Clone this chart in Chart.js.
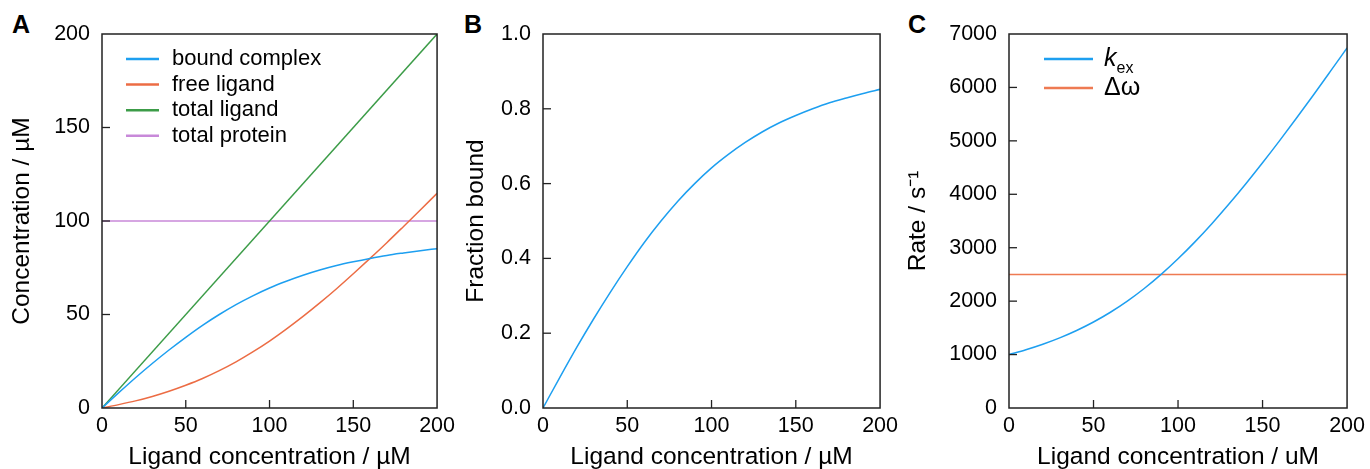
<!DOCTYPE html>
<html>
<head>
<meta charset="utf-8">
<script src="https://cdn.jsdelivr.net/npm/chart.js@4.4.1/dist/chart.umd.min.js"></script>
<style>
  body { margin: 0; background: #fff; width: 1370px; height: 469px; overflow: hidden; position: relative; }
  canvas { position: absolute; top: 0; }
  .tag { position: absolute; top: 12px; font: bold 25px/1 "Liberation Sans", Arial, sans-serif; color: #000; }
</style>
</head>
<body>
<div class="tag" style="left:12px">A</div>
<div class="tag" style="left:464px">B</div>
<div class="tag" style="left:908px">C</div>
<canvas id="chartA" width="460" height="469" style="left:0px"></canvas>
<canvas id="chartB" width="443" height="469" style="left:460px"></canvas>
<canvas id="chartC" width="467" height="469" style="left:903px"></canvas>
<script>
// DATA
const ligand = [0, 10, 20, 30, 40, 50, 60, 70, 80, 90, 100, 110, 120, 130, 140, 150, 160, 170, 180, 190, 200];
const boundComplex = [0, 8.2, 16.2, 23.8, 31.0, 37.8, 44.2, 50.0, 55.3, 60.0, 64.2, 67.8, 71.0, 73.8, 76.2, 78.2, 80.0, 81.6, 82.9, 84.1, 85.2];
const freeLigand = [0, 1.8, 3.8, 6.2, 9.0, 12.2, 15.8, 20.0, 24.7, 30.0, 35.8, 42.2, 49.0, 56.2, 63.8, 71.8, 80.0, 88.4, 97.1, 105.9, 114.8];
const lineEnds = [0, 200];
const totalLigand = [0, 200];
const totalProtein = [100, 100];
const fractionBound = [0, 0.082, 0.162, 0.238, 0.310, 0.378, 0.442, 0.500, 0.553, 0.600, 0.642, 0.678, 0.710, 0.738, 0.762, 0.782, 0.800, 0.816, 0.829, 0.841, 0.852];
const kex = [1000, 1090, 1193, 1312, 1450, 1609, 1792, 2000, 2236, 2500, 2792, 3109, 3450, 3812, 4193, 4590, 5000, 5422, 5854, 6295, 6740];
const deltaOmega = [2500, 2500];

const family = '"Liberation Sans", Arial, sans-serif';
Chart.defaults.font.family = family;
Chart.defaults.color = '#000';

const pts = (xs, ys) => xs.map((x, i) => ({ x: x, y: ys[i] }));

// box + inward ticks
const innerTicks = {
  id: 'innerTicks',
  afterDatasetsDraw(chart) {
    const { ctx, chartArea: a, scales } = chart;
    ctx.save();
    ctx.strokeStyle = '#222';
    ctx.lineWidth = 1.5;
    ctx.strokeRect(a.left, a.top, a.right - a.left, a.bottom - a.top);
    ctx.lineWidth = 1.3;
    scales.x.ticks.forEach(t => {
      if (t.value <= scales.x.min || t.value >= scales.x.max) return;
      const px = scales.x.getPixelForValue(t.value);
      ctx.beginPath(); ctx.moveTo(px, a.bottom); ctx.lineTo(px, a.bottom - 8); ctx.stroke();
    });
    scales.y.ticks.forEach(t => {
      if (t.value <= scales.y.min || t.value >= scales.y.max) return;
      const py = scales.y.getPixelForValue(t.value);
      ctx.beginPath(); ctx.moveTo(a.left, py); ctx.lineTo(a.left + 8, py); ctx.stroke();
    });
    ctx.restore();
  }
};

// legend inside the plot
const inLegend = {
  id: 'inLegend',
  afterDraw(chart, args, opts) {
    const { ctx, chartArea: a } = chart;
    ctx.save();
    chart.data.datasets.forEach((ds, i) => {
      const y = a.top + opts.top + i * opts.row;
      ctx.strokeStyle = ds.borderColor;
      ctx.lineWidth = 2.5;
      ctx.beginPath(); ctx.moveTo(a.left + opts.x0, y); ctx.lineTo(a.left + opts.x1, y); ctx.stroke();
      ctx.fillStyle = '#000';
      ctx.textBaseline = 'middle';
      ctx.font = (ds.italic ? 'italic ' : '') + opts.size + 'px ' + family;
      const tx = a.left + opts.tx;
      ctx.fillText(ds.label, tx, y);
      if (ds.sub) {
        const w = ctx.measureText(ds.label).width;
        ctx.font = opts.subSize + 'px ' + family;
        ctx.fillText(ds.sub, tx + w, y + 10);
      }
    });
    ctx.restore();
  }
};

function lineSet(label, data, color) {
  return { label: label, data: data, borderColor: color, borderWidth: 1.5, pointRadius: 0, fill: false, cubicInterpolationMode: 'monotone' };
}

function makeOptions(o) {
  return {
    responsive: false,
    animation: false,
    layout: { padding: { left: 0, right: o.right, top: 34, bottom: 0 } },
    plugins: { legend: { display: false }, tooltip: { enabled: false }, inLegend: o.legend || {} },
    scales: {
      x: {
        type: 'linear', min: 0, max: 200,
        ticks: { stepSize: 50, padding: 5, maxRotation: 0, font: { size: 21.5 }, color: '#000' },
        grid: { display: false, drawTicks: false },
        border: { display: false },
        title: { display: true, text: o.xTitle, font: { size: 24.5, lineHeight: 1 }, padding: { top: 0, bottom: 0 }, color: '#000' },
        afterFit: s => { s.height = 61; }
      },
      y: {
        type: 'linear', min: o.yMin, max: o.yMax,
        ticks: { stepSize: o.step, padding: 12, font: { size: 21.5 }, color: '#000', callback: o.fmt },
        grid: { display: false, drawTicks: false },
        border: { display: false },
        title: { display: true, text: o.yTitle, font: { size: 24.5, lineHeight: 1 }, padding: { top: o.yPad, bottom: 0 }, color: '#000' },
        afterFit: s => { s.width = o.yWidth; }
      }
    }
  };
}

// PANEL A
new Chart(document.getElementById('chartA'), {
  type: 'line',
  data: {
    datasets: [
      lineSet('bound complex', pts(ligand, boundComplex), '#1d9ff0'),
      lineSet('free ligand', pts(ligand, freeLigand), '#ec6c44'),
      lineSet('total ligand', pts(lineEnds, totalLigand), '#3c9c48'),
      lineSet('total protein', pts(lineEnds, totalProtein), '#c889d9')
    ]
  },
  options: makeOptions({
    right: 20, yWidth: 102, yPad: 10, yMin: 0, yMax: 200, step: 50,
    fmt: v => String(v),
    yTitle: 'Concentration / µM', xTitle: 'Ligand concentration / µM',
    legend: { x0: 24, x1: 57, tx: 70, top: 25, row: 25.6, size: 22 }
  }),
  plugins: [innerTicks, inLegend]
});

// PANEL B
new Chart(document.getElementById('chartB'), {
  type: 'line',
  data: {
    datasets: [lineSet('fraction bound', pts(ligand, fractionBound), '#1d9ff0')]
  },
  options: makeOptions({
    right: 19, yWidth: 83, yPad: 4, yMin: 0, yMax: 1, step: 0.2,
    fmt: v => v.toFixed(1),
    yTitle: 'Fraction bound', xTitle: 'Ligand concentration / µM'
  }),
  plugins: [innerTicks]
});

// PANEL C
const kexSet = lineSet('k', pts(ligand, kex), '#1d9ff0');
kexSet.italic = true;
kexSet.sub = 'ex';
new Chart(document.getElementById('chartC'), {
  type: 'line',
  data: {
    datasets: [kexSet, lineSet('Δω', pts(lineEnds, deltaOmega), '#ee7a52')]
  },
  options: makeOptions({
    right: 20, yWidth: 106, yPad: 3, yMin: 0, yMax: 7000, step: 1000,
    fmt: v => String(v),
    yTitle: 'Rate / s⁻¹', xTitle: 'Ligand concentration / uM',
    legend: { x0: 35, x1: 84, tx: 95, top: 25, row: 29, size: 25, subSize: 16 }
  }),
  plugins: [innerTicks, inLegend]
});
</script>
</body>
</html>
